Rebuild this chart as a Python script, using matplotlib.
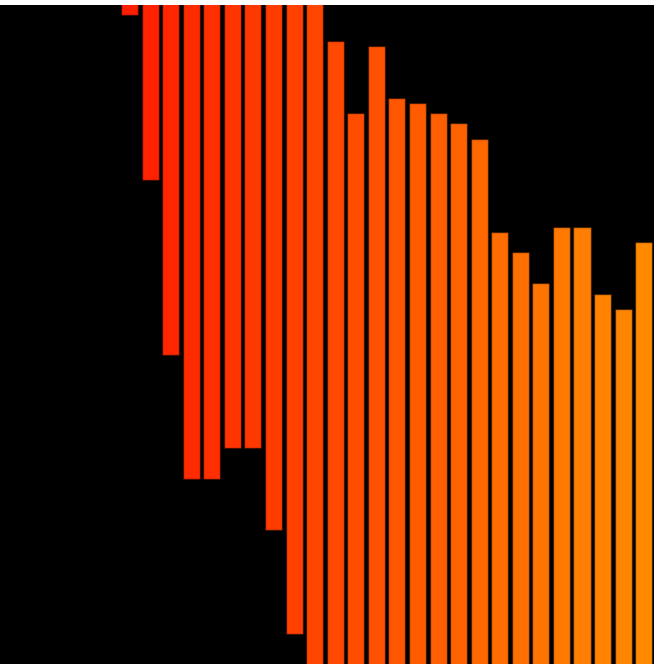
import matplotlib
matplotlib.use('Agg')
import numpy as np
import matplotlib.pyplot as plt
from matplotlib.colors import LinearSegmentedColormap

# bar spans (bottom, top) on a 0-100 scale
bar_bottoms = [98.5, 73.4, 46.9, 28.1, 28.1, 32.8, 32.8, 20.3, 4.6, -5,
               -5, -5, -5, -5, -5, -5, -5, -5, -5, -5, -5, -5, -5, -5, -5, -5]
bar_tops = [105, 105, 105, 105, 105, 105, 105, 105, 105, 105,
            94.5, 83.6, 93.8, 85.9, 85.1, 83.6, 82.1, 79.7,
            65.6, 62.5, 57.8, 66.3, 66.3, 56.1, 53.9, 64.0]

n = len(bar_tops)
x = np.arange(n)
heights = np.array(bar_tops) - np.array(bar_bottoms)

cmap = LinearSegmentedColormap.from_list('ro', ['#ff1e00', '#ff8a00'])
colors = [cmap(i / (n - 1)) for i in range(n)]

fig = plt.figure(figsize=(6.54, 6.64), dpi=100, facecolor='white')
ax = fig.add_axes([0, 0, 1, 659 / 664])
ax.set_facecolor('black')
ax.bar(x, heights, bottom=bar_bottoms, width=0.83, color=colors,
       edgecolor=(0, 0, 0, 0.45), linewidth=1)
ax.set_xlim(-6.3, 25.5)
ax.set_ylim(0, 100)
ax.set_xticks([])
ax.set_yticks([])
for s in ax.spines.values():
    s.set_visible(False)

fig.savefig('out.png', dpi=100, facecolor=fig.get_facecolor())
